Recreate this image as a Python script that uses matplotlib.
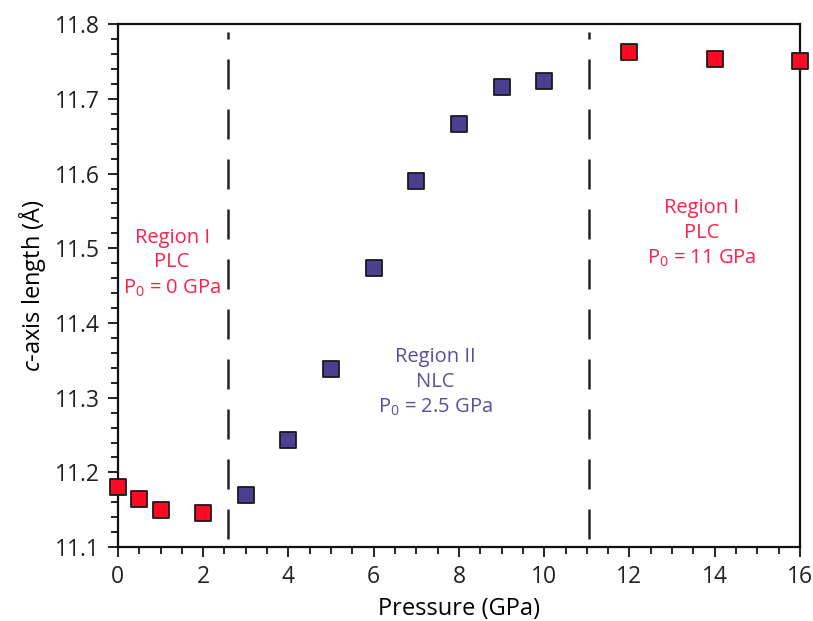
import matplotlib.pyplot as plt
from matplotlib.ticker import MultipleLocator, FormatStrFormatter

plt.rcParams["font.family"] = ["Open Sans", "DejaVu Sans"]
plt.rcParams["mathtext.fontset"] = "custom"
plt.rcParams["mathtext.rm"] = "Open Sans"
plt.rcParams["mathtext.it"] = "Open Sans:italic"

# region I (low pressure and high pressure) points
p_plc = [0, 0.5, 1, 2, 12, 14, 16]
c_plc = [11.180, 11.164, 11.150, 11.145, 11.763, 11.754, 11.751]

# region II points
p_nlc = [3, 4, 5, 6, 7, 8, 9, 10]
c_nlc = [11.170, 11.244, 11.338, 11.473, 11.590, 11.667, 11.716, 11.724]

boundaries = [2.58, 11.05]

red = "#ff0a24"
blue = "#4b3f92"
red_txt = "#ff1f4b"
blue_txt = "#5a4f9c"

fig = plt.figure(figsize=(8.13, 6.21), dpi=100)
ax = fig.add_axes([0.145, 0.119, 0.839, 0.842])

for xb in boundaries:
    ax.axvline(xb, ymin=0.015, ymax=0.985, color="#222222", lw=1.8,
               ls=(0, (12, 8)), zorder=1)

ax.scatter(p_plc, c_plc, marker="s", s=120, color=red, edgecolor="#1a1a1a",
           linewidth=1.3, zorder=5, clip_on=False)
ax.scatter(p_nlc, c_nlc, marker="s", s=120, color=blue, edgecolor="#1a1a1a",
           linewidth=1.3, zorder=5, clip_on=False)

txt_kw = dict(fontsize=14.5, ha="center", va="center", linespacing=1.3)
ax.text(1.27, 11.48, "Region I\nPLC\nP$_0$ = 0 GPa", color=red_txt, **txt_kw)
ax.text(7.44, 11.32, "Region II\nNLC\nP$_0$ = 2.5 GPa", color=blue_txt, **txt_kw)
ax.text(13.7, 11.52, "Region I\nPLC\nP$_0$ = 11 GPa", color=red_txt, **txt_kw)

ax.set_xlim(0, 16)
ax.set_ylim(11.1, 11.8)
ax.xaxis.set_major_locator(MultipleLocator(2))
ax.xaxis.set_minor_locator(MultipleLocator(0.5))
ax.yaxis.set_major_locator(MultipleLocator(0.1))
ax.yaxis.set_minor_locator(MultipleLocator(0.02))
ax.yaxis.set_major_formatter(FormatStrFormatter("%.1f"))

ax.tick_params(which="both", direction="out", top=False, right=False,
               labelsize=16.5, width=1.4, colors="#222222")
ax.tick_params(which="major", length=7, pad=6)
ax.tick_params(which="minor", length=5)
for s in ax.spines.values():
    s.set_linewidth(1.6)
    s.set_color("#111111")

ax.set_xlabel("Pressure (GPa)", fontsize=17, labelpad=6)
ax.set_ylabel(r"$\it{c}$-axis length (Å)", fontsize=17, labelpad=5)

fig.savefig("out.png", dpi=100)
